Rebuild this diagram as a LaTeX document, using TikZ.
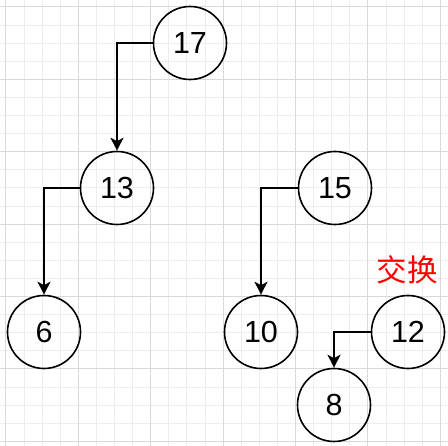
\documentclass[tikz,border=0pt]{standalone}
\usepackage{fontspec}
\setmainfont{Liberation Sans}
\newfontfamily\cjk{Noto Sans CJK SC}
\usetikzlibrary{positioning, arrows.meta}
\tikzset{node/.style = {circle,draw,line width=1.6pt,minimum size=73pt,inner sep=0pt,font=\fontsize{30.5}{33}\selectfont}}
\tikzset{arr/.style = {line width=1.6pt,-{Stealth[length=13pt,width=13pt,inset=3.5pt]}}}

\begin{document}
\begin{tikzpicture}[x=1pt, y=1pt]
            \useasboundingbox (0,0) rectangle (448,446);
            \draw[gray!14, line width=0.8pt, step=18.1, shift={(5.8,4.7)}] (-5.8,-4.7) grid (442.2,441.3);
            \draw[gray!30, line width=0.8pt, step=72.4, shift={(5.8,4.7)}] (-5.8,-4.7) grid (442.2,441.3);

            \node[node] (17) at (190, 403) {17};
            \node[node] (13) at (117, 258) {13};
            \node[node] (15) at (335, 258) {15};
            \node[node] (6)  at ( 44, 114) {6};
            \node[node] (10) at (261, 114) {10};
            \node[node] (12) at (408, 114) {12};
            \node[node] (8)  at (334,  41) {8};

            \node[red, font=\cjk\fontsize{30.5}{33}\selectfont] (swap) at (407, 176) {交换};

            \draw[arr] (17.west) -| (13.north);
            \draw[arr] (13.west) -| (6.north);
            \draw[arr] (15.west) -| (10.north);
            \draw[arr] (12.west) -| (8.north);
        \end{tikzpicture}
\end{document}
